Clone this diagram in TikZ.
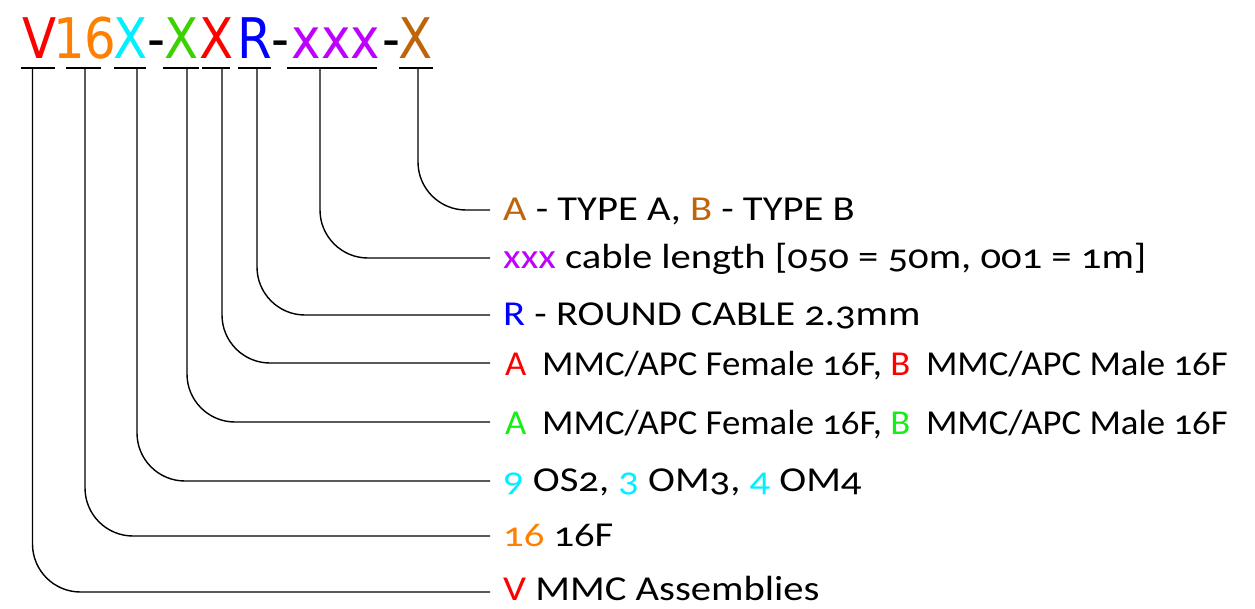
\documentclass[tikz,border=0pt]{standalone}
\usepackage{fontspec}
\newfontfamily\hdrfont[FakeStretch=0.89]{DejaVu Sans}
\newfontfamily\labfont[Numbers=OldStyle,FakeStretch=1.16]{Carlito}
\newfontfamily\labfontn[Numbers=OldStyle,FakeStretch=1.05]{Carlito}
\definecolor{cV}{RGB}{255,0,0}
\definecolor{cOr}{RGB}{255,128,0}
\definecolor{cCy}{RGB}{0,240,255}
\definecolor{cGrH}{RGB}{60,210,0}
\definecolor{cGrL}{RGB}{20,240,20}
\definecolor{cBl}{RGB}{0,0,255}
\definecolor{cPu}{RGB}{190,0,255}
\definecolor{cBr}{RGB}{190,100,10}
\tikzset{
  hdr/.style={anchor=base, inner sep=0pt, font=\hdrfont\fontsize{56}{60}\selectfont},
  lab/.style={anchor=base west, inner sep=0pt, font=\labfont\fontsize{35}{40}\selectfont},
  labn/.style={anchor=base west, inner sep=0pt, font=\labfontn\fontsize{35}{40}\selectfont},
  uline/.style={line width=1.4pt},
  conn/.style={line width=1.4pt, rounded corners=48pt},
}
\begin{document}
\begin{tikzpicture}[x=1pt,y=-1pt]
\useasboundingbox (0,0) rectangle (1255,608);
% header
\node[hdr, text=cV]  (hV)  at (39.5,58) {V};
\node[hdr, text=cOr] (h16) at (85,58) {16};
\node[hdr, text=cCy] (hX1) at (130.5,58) {X};
\node[hdr]           (hd1) at (156.5,58) {-};
\node[hdr, text=cGrH] (hX2) at (181.5,58) {X};
\node[hdr, text=cV]  (hX3) at (216.5,58) {X};
\node[hdr, text=cBl] (hR)  at (255,58) {R};
\node[hdr]           (hd2) at (280.5,58) {-};
\node[hdr, text=cPu] (hx)  at (336,58) {xxx};
\node[hdr]           (hd3) at (391.5,58) {-};
\node[hdr, text=cBr] (hX4) at (416,58) {X};
% underlines
\draw[uline] (21,68) -- (55,68);
\draw[uline] (66,68) -- (101,68);
\draw[uline] (114,68) -- (146,68);
\draw[uline] (163,68) -- (199,68);
\draw[uline] (202,68) -- (230,68);
\draw[uline] (238,68) -- (271,68);
\draw[uline] (287,68) -- (377,68);
\draw[uline] (399,68) -- (433,68);
% taps
\coordinate (t1) at (32.5,68);
\coordinate (t2) at (85,68);
\coordinate (t3) at (137,68);
\coordinate (t4) at (187,68);
\coordinate (t5) at (222,68);
\coordinate (t6) at (257,68);
\coordinate (t7) at (320,68);
\coordinate (t8) at (418,68);
% line ends
\coordinate (e8) at (490,210);
\coordinate (e7) at (490,258);
\coordinate (e6) at (490,315);
\coordinate (e5) at (490,363);
\coordinate (e4) at (490,422);
\coordinate (e3) at (490,481);
\coordinate (e2) at (490,536);
\coordinate (e1) at (490,592);
% labels
\node[lab] (l8) at (503,220) {\textcolor{cBr}{A} - TYPE A, \textcolor{cBr}{B} - TYPE B};
\node[lab] (l7) at (503,268) {\textcolor{cPu}{xxx} cable length [050 = 50m, 001 = 1m]};
\node[lab] (l6) at (503,325) {\textcolor{cBl}{R} - ROUND CABLE 2.3mm};
\node[labn] (l5) at (505,375) {\textcolor{cV}{A}\hspace{0.45em}MMC/APC Female 16F, \textcolor{cV}{B}\hspace{0.45em}MMC/APC Male 16F};
\node[labn] (l4) at (505,434) {\textcolor{cGrL}{A}\hspace{0.45em}MMC/APC Female 16F, \textcolor{cGrL}{B}\hspace{0.45em}MMC/APC Male 16F};
\node[lab] (l3) at (503,491) {\textcolor{cCy}{9} OS2, \textcolor{cCy}{3} OM3, \textcolor{cCy}{4} OM4};
\node[lab] (l2) at (503,546) {\textcolor{cOr}{16} 16F};
\node[lab] (l1) at (503,600) {\textcolor{cV}{V} MMC Assemblies};
% connectors
\draw[conn] (t1) |- (e1);
\draw[conn] (t2) |- (e2);
\draw[conn] (t3) |- (e3);
\draw[conn] (t4) |- (e4);
\draw[conn] (t5) |- (e5);
\draw[conn] (t6) |- (e6);
\draw[conn] (t7) |- (e7);
\draw[conn] (t8) |- (e8);
\end{tikzpicture}
\end{document}
